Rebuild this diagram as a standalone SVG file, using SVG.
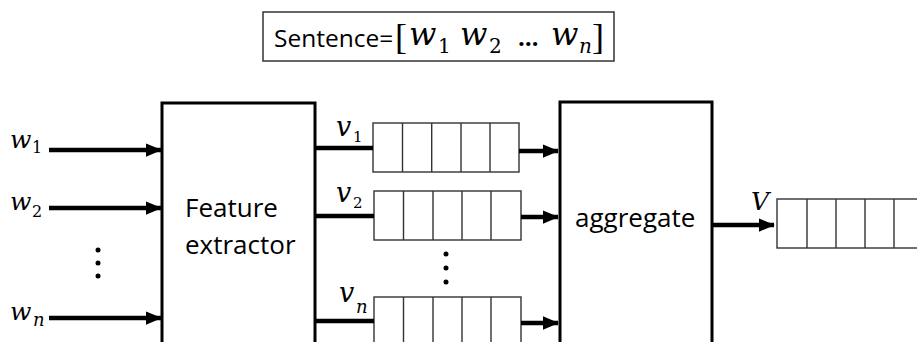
<svg xmlns="http://www.w3.org/2000/svg" width="917" height="342" viewBox="0 0 917 342">
  <style>
    .box { fill: #fff; stroke: #000; stroke-width: 3; }
    .cell { fill: #fff; stroke: #333; stroke-width: 1.4; }
    .div { stroke: #333; stroke-width: 1.4; }
    .wire { stroke: #000; stroke-width: 4.5; fill: none; }
    .arrow { stroke: #000; stroke-width: 4.5; fill: none; marker-end: url(#head); }
    .lbl { font-family: "Open Sans", "Noto Sans", sans-serif; fill: #000; }
    .math { font-family: "DejaVu Serif", "Liberation Serif", serif; font-style: italic; fill: #000; }
    .sub { font-family: "DejaVu Serif", "Liberation Serif", serif; font-style: normal; fill: #000; }
    .brk { font-family: "Liberation Serif", "DejaVu Serif", serif; font-style: normal; fill: #000; }
    .dot { fill: #000; }
  </style>
  <defs>
    <marker id="head" markerWidth="3.6" markerHeight="3" refX="3.4" refY="1.5" orient="auto" markerUnits="strokeWidth">
      <path d="M0,0 L3.6,1.5 L0,3 Z" fill="#000"/>
    </marker>
  </defs>

  <rect width="917" height="342" fill="#fff"/>

  <!-- sentence header -->
  <g id="sentence">
    <rect x="263" y="12" width="351" height="49" fill="#fff" stroke="#333" stroke-width="1.5"/>
    <text x="274" y="47" class="lbl" font-size="24.5">Sentence=</text>
    <text x="395" y="49" class="brk" font-size="36">[</text>
    <text x="409" y="45" class="math" font-size="32">w</text>
    <text x="438" y="53" class="sub" font-size="20">1</text>
    <text x="460" y="45" class="math" font-size="32">w</text>
    <text x="489" y="53" class="sub" font-size="20">2</text>
    <text x="518" y="46" class="lbl" font-size="24" font-weight="bold">…</text>
    <text x="551" y="45" class="math" font-size="32">w</text>
    <text x="579" y="53" class="math" font-size="20">n</text>
    <text x="592" y="49" class="brk" font-size="36">]</text>
  </g>

  <!-- input word labels -->
  <g id="inputs">
    <text x="10" y="148" class="math" font-size="25">w</text>
    <text x="32" y="153" class="sub" font-size="16">1</text>
    <text x="10" y="210" class="math" font-size="25">w</text>
    <text x="32" y="217" class="sub" font-size="16">2</text>
    <text x="10" y="320" class="math" font-size="25">w</text>
    <text x="33" y="326" class="math" font-size="18">n</text>
    <circle class="dot" cx="98" cy="250" r="2.5"/>
    <circle class="dot" cx="98" cy="263" r="2.5"/>
    <circle class="dot" cx="98" cy="276" r="2.5"/>
  </g>

  <!-- feature extractor -->
  <g id="feature-extractor">
    <rect class="box" x="162" y="103" width="153" height="260"/>
    <text x="185" y="217" class="lbl" font-size="26">Feature</text>
    <text x="185" y="254" class="lbl" font-size="26">extractor</text>
  </g>

  <!-- per-word feature vectors -->
  <g id="vector-v1">
    <rect class="cell" x="373" y="123" width="146" height="49"/>
    <path class="div" d="M402.5,123V172M431.7,123V172M461,123V172M490,123V172"/>
    <text x="336" y="136" class="math" font-size="27">v</text>
    <text x="353" y="142" class="sub" font-size="15">1</text>
  </g>
  <g id="vector-v2">
    <rect class="cell" x="374" y="191" width="147" height="49"/>
    <path class="div" d="M403.5,191V240M433,191V240M462,191V240M491,191V240"/>
    <text x="336" y="202" class="math" font-size="27">v</text>
    <text x="353" y="208" class="sub" font-size="15">2</text>
  </g>
  <g id="vector-dots">
    <circle class="dot" cx="446" cy="254" r="2.5"/>
    <circle class="dot" cx="446" cy="268" r="2.5"/>
    <circle class="dot" cx="446" cy="282" r="2.5"/>
  </g>
  <g id="vector-vn">
    <rect class="cell" x="374" y="297" width="147" height="60"/>
    <path class="div" d="M403.5,297V357M433,297V357M462,297V357M491,297V357"/>
    <text x="339" y="302" class="math" font-size="27">v</text>
    <text x="356" y="313" class="math" font-size="18">n</text>
  </g>

  <!-- aggregate -->
  <g id="aggregate">
    <rect class="box" x="560" y="102" width="152" height="260"/>
    <text x="575" y="227" class="lbl" font-size="26">aggregate</text>
  </g>

  <!-- sentence vector -->
  <g id="vector-V">
    <rect class="cell" x="777" y="199" width="160" height="49"/>
    <path class="div" d="M807,199V248M836,199V248M865,199V248M894,199V248"/>
    <text x="751" y="210" class="math" font-size="25">V</text>
  </g>

  <!-- connectors -->
  <g id="connectors">
    <line class="arrow" x1="49" y1="150" x2="161" y2="150"/>
    <line class="arrow" x1="49" y1="208" x2="161" y2="208"/>
    <line class="arrow" x1="49" y1="318" x2="161" y2="318"/>
    <line class="wire" x1="315" y1="148" x2="373" y2="148"/>
    <line class="wire" x1="315" y1="216" x2="374" y2="216"/>
    <line class="wire" x1="315" y1="321" x2="374" y2="321"/>
    <line class="arrow" x1="519" y1="151" x2="558" y2="151"/>
    <line class="arrow" x1="521" y1="217" x2="558" y2="217"/>
    <line class="arrow" x1="521" y1="323" x2="558" y2="323"/>
    <line class="arrow" x1="712" y1="225" x2="774" y2="225"/>
  </g>
</svg>
